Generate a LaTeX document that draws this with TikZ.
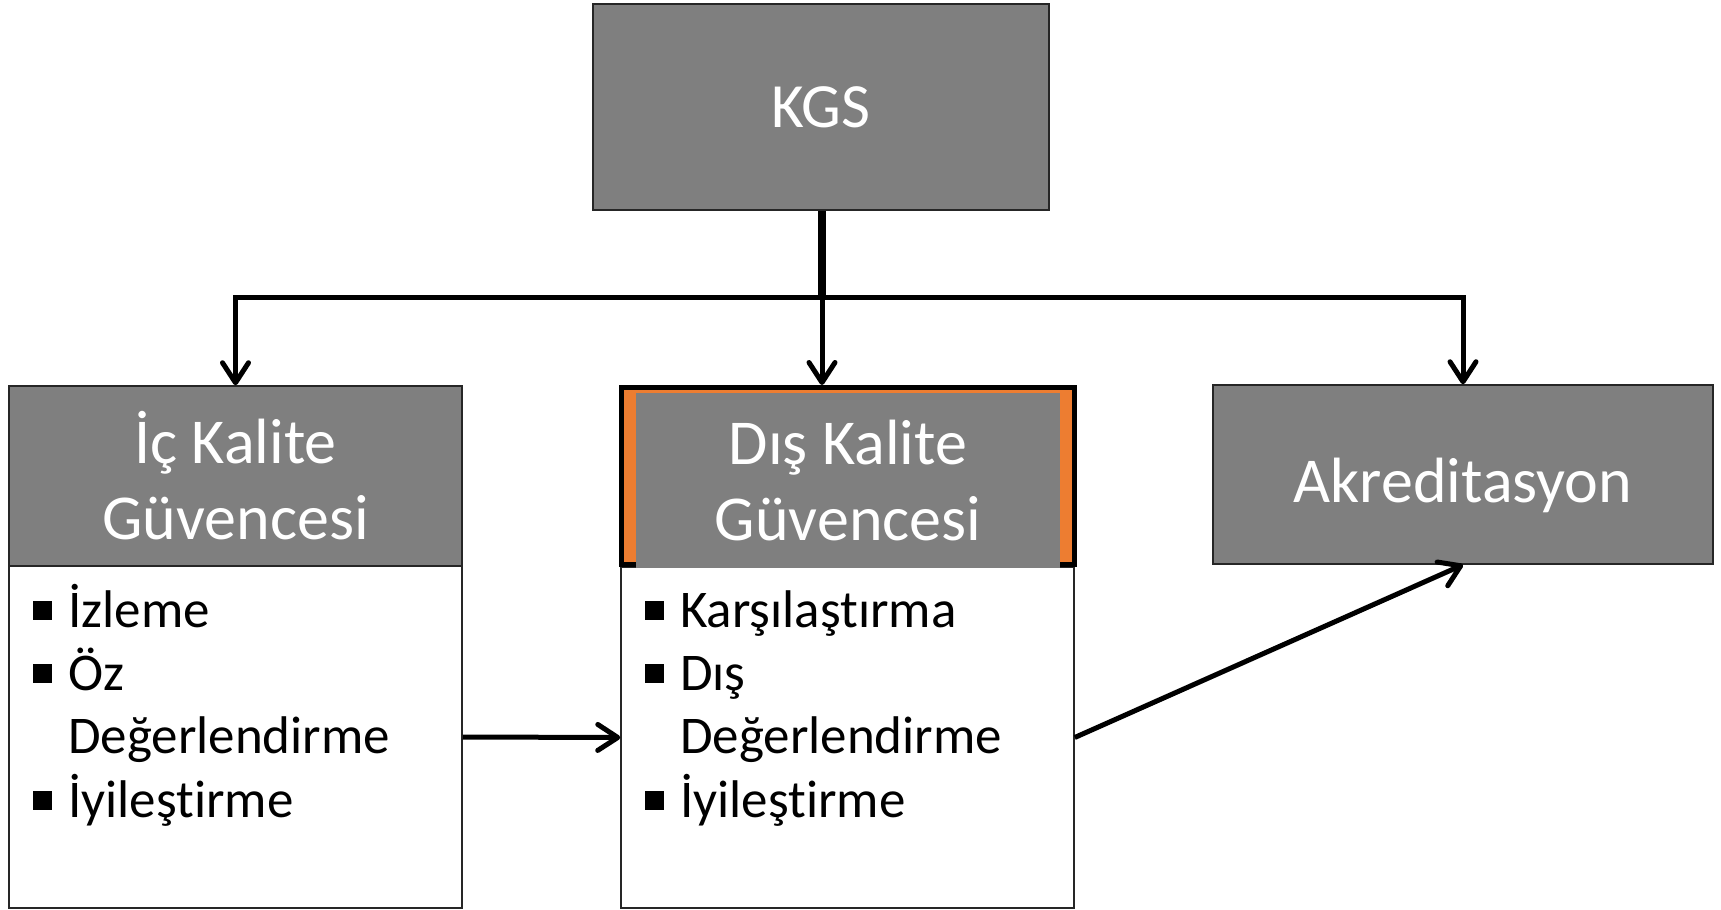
\documentclass[tikz,border=0pt]{standalone}
\usepackage{fontspec}
\setmainfont{Carlito}[Ligatures=NoCommon]
\usetikzlibrary{arrows.meta}
\definecolor{boxgray}{HTML}{7F7F7F}
\definecolor{accent}{HTML}{ED7D31}
\newcommand{\bulsq}{\makebox[35pt][l]{\raisebox{7pt}{\rule{19pt}{19pt}}}}
\begin{document}
\begin{tikzpicture}[x=1pt,y=-1pt,
  graybox/.style={draw=black!85, line width=1.5pt, fill=boxgray, text=white, inner sep=0pt, align=center, font=\fontsize{64}{76}\selectfont},
  bodybox/.style={draw=black!85, line width=1.5pt, fill=white, inner sep=0pt},
  itemtext/.style={anchor=base west, inner sep=0pt, font=\fontsize{53}{63}\selectfont, text=black},
  conn/.style={draw=black, line width=5pt},
  arr/.style={conn, -{Straight Barb[length=20pt,width=26pt,round]}}
]
\useasboundingbox[fill=white] (0,0) rectangle (1721,910);

% KGS
\node[graybox, font=\fontsize{63}{76}\selectfont, minimum width=456pt, minimum height=206pt] (kgs) at (821,107) {KGS};

% Ic Kalite
\node[bodybox, minimum width=453pt, minimum height=342pt] (icbody) at (235.5,737) {};
\node[graybox, minimum width=453pt, minimum height=180pt] (ichead) at (235.5,476) {İç Kalite\\Güvencesi};

% Dis Kalite
\node[bodybox, minimum width=453pt, minimum height=341pt] (disbody) at (847.5,737.5) {};
\node[draw=black, line width=5pt, fill=accent, minimum width=453pt, minimum height=177pt, inner sep=0pt] (disframe) at (848,476) {};
\node[graybox, draw=none, minimum width=424pt, minimum height=175pt] (dishead) at (848,480.5) {Dış Kalite\\Güvencesi};

% Akreditasyon
\node[graybox, text height=56pt, text depth=0pt, minimum width=500pt, minimum height=179pt] (akr) at (1463,474.5) {Akreditasyon};

% items
\node[itemtext] (ic1) at (33,627) {\bulsq İzleme};
\node[itemtext] (ic2) at (33,690) {\bulsq Öz};
\node[itemtext] (ic3) at (68,753) {Değerlendirme};
\node[itemtext] (ic4) at (33,817) {\bulsq İyileştirme};

\node[itemtext] (dis1) at (645,627) {\bulsq Karşılaştırma};
\node[itemtext] (dis2) at (645,690) {\bulsq Dış};
\node[itemtext] (dis3) at (680,753) {Değerlendirme};
\node[itemtext] (dis4) at (645,817) {\bulsq İyileştirme};

% connectors
\coordinate (bar) at (822,297);
\draw[conn, line width=8pt] (kgs.south -| bar) -- (bar);
\draw[arr] (bar) -| (ichead.north);
\draw[arr] (bar) -| (akr.north);
\draw[arr] (bar) -- (bar |- disframe.north);
\draw[arr] (icbody.east) -- (disbody.west);
\draw[arr] (disbody.east) -- (akr.south);
\end{tikzpicture}
\end{document}
